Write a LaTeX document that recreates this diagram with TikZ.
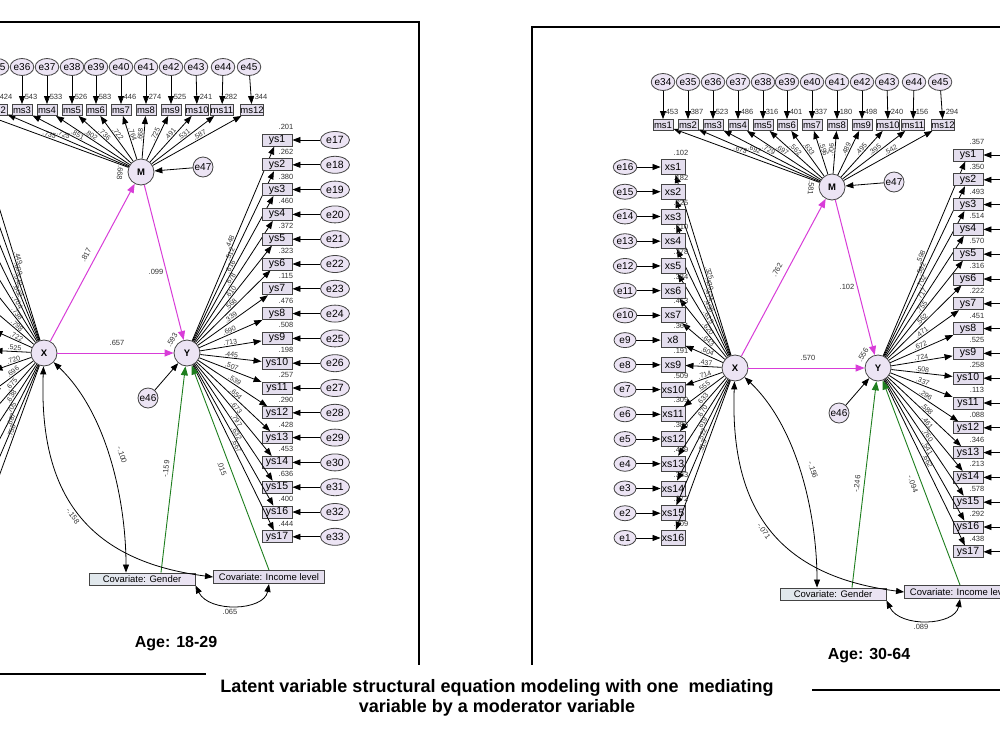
\documentclass[tikz,border=0pt]{standalone}
\usepackage{fontspec}
\setmainfont{Liberation Sans}
\usetikzlibrary{arrows.meta,shapes.geometric,calc}
\definecolor{lav}{HTML}{ECE4F4}
\definecolor{boxf}{HTML}{E4DEEE}
\definecolor{mag}{HTML}{D83CD8}
\definecolor{grn}{HTML}{1E7E1E}
\definecolor{gbl}{HTML}{E0E8EC}
\definecolor{edge}{HTML}{444444}
\definecolor{numc}{HTML}{333333}
\tikzset{
 lat/.style={circle,draw=edge,line width=0.8pt,fill=lav,minimum size=26pt,inner sep=0pt,font=\bfseries\fontsize{9.5}{9.5}\selectfont},
 errs/.style={ellipse,draw=edge,line width=0.8pt,fill=lav,minimum width=22pt,minimum height=17pt,inner sep=0pt,font=\fontsize{10}{10}\selectfont},
 errx/.style={ellipse,draw=edge,line width=0.8pt,fill=lav,minimum width=22pt,minimum height=15pt,inner sep=0pt,font=\fontsize{10}{10}\selectfont},
 erry/.style={ellipse,draw=edge,line width=0.8pt,fill=lav,minimum width=29pt,minimum height=17pt,inner sep=0pt,font=\fontsize{10.5}{10.5}\selectfont},
 errc/.style={circle,draw=edge,line width=0.8pt,fill=lav,minimum size=20pt,inner sep=0pt,font=\fontsize{10}{10}\selectfont},
 msbox/.style={rectangle,draw=edge,line width=0.9pt,fill=boxf,minimum width=20pt,minimum height=11pt,inner sep=0pt,font=\fontsize{9.5}{9.5}\selectfont},
 xsbox/.style={rectangle,draw=edge,line width=0.9pt,fill=boxf,minimum width=24pt,minimum height=15pt,inner sep=0pt,font=\fontsize{10.5}{10.5}\selectfont},
 ysbox/.style={rectangle,draw=edge,line width=0.9pt,fill=boxf,minimum width=30pt,minimum height=12pt,inner sep=0pt,font=\fontsize{10.5}{10.5}\selectfont},
 gbox/.style={rectangle,draw=edge,line width=0.9pt,left color=gbl,right color=lav,minimum width=106pt,minimum height=12pt,inner sep=0pt,font=\fontsize{9.5}{9.5}\selectfont},
 ibox/.style={rectangle,draw=edge,line width=0.9pt,fill=boxf,minimum width=111pt,minimum height=13pt,inner sep=0pt,font=\fontsize{9.5}{9.5}\selectfont},
 arr/.style={draw=black,line width=0.8pt,-{Triangle[length=8pt,width=6pt]}},
 marr/.style={draw=mag,line width=1pt,-{Triangle[length=9pt,width=7pt]}},
 garr/.style={draw=grn,line width=0.9pt,-{Triangle[length=9pt,width=7pt]}},
 carr/.style={draw=black,line width=0.8pt,{Triangle[length=8pt,width=6pt]}-{Triangle[length=8pt,width=6pt]}},
 num/.style={text=numc,font=\fontsize{7.5}{7.5}\selectfont,inner sep=0.5pt},
 ld/.style={text=numc,font=\fontsize{7}{7}\selectfont,inner sep=0.8pt,sloped,above},
 frame/.style={draw=black,line width=2.6pt}
}
\newcommand\drawpanel[1]{%
 \node[lat] (#1X) at (735,368) {X};
 \node[lat] (#1M) at (832,187) {M};
 \node[lat] (#1Y) at (878,368) {Y};
 \node[errc] (#1e47) at (894,182) {e47};
 \node[errc] (#1e46) at (839,413) {e46};
 \node[gbox] (#1G) at (833,594) {Covariate: Gender};
 \node[ibox] (#1I) at (960,592) {Covariate: Income level};
 \foreach \xx/\ex/\vv/\lo [count=\i] in \msdata {
   \pgfmathtruncatemacro\en{\i+33}
   \node[msbox] (#1ms\i) at (\xx,125) {ms\i};
   \node[errs] (#1me\i) at (\ex,82) {e\en};
   \draw[arr] (#1me\i) -- (#1ms\i);
   \node[num] at (\xx+8,112) {\vv};
   \draw[arr] (#1M) -- (#1ms\i) node[ld,pos=0.55] {\lo};
 }
 \foreach \lab/\vv/\lo [count=\i] in \xsdata {
   \pgfmathsetmacro\yy{167+24.73*(\i-1)}
   \pgfmathtruncatemacro\en{17-\i}
   \node[xsbox] (#1xs\i) at (673,\yy) {\lab};
   \node[errx] (#1xe\i) at (625,\yy) {e\en};
   \draw[arr] (#1xe\i) -- (#1xs\i);
   \node[num] at (681,\yy-14) {\vv};
   \draw[arr] (#1X) -- (#1xs\i) node[ld,pos=0.45] {\lo};
 }
 \foreach \vv/\lo [count=\i] in \ysdata {
   \pgfmathsetmacro\yy{155+24.8*(\i-1)}
   \pgfmathtruncatemacro\en{\i+16}
   \node[ysbox] (#1ys\i) at (968,\yy) {ys\i};
   \node[erry] (#1ye\i) at (1026,\yy) {e\en};
   \draw[arr] (#1ye\i) -- (#1ys\i);
   \node[num] at (977,\yy-13) {\vv};
   \draw[arr] (#1Y) -- (#1ys\i) node[ld,pos=0.5] {\lo};
 }
 \draw[marr] (#1X) -- (#1M);
 \draw[marr] (#1X) -- (#1Y);
 \draw[marr] (#1M) -- (#1Y);
 \draw[arr] (#1e47) -- (#1M);
 \draw[arr] (#1e46) -- (#1Y);
 \node[num,rotate=62] at (777,270) {\pXM};
 \node[num] at (808,358) {\pXY};
 \node[num] at (847,287) {\pMY};
 \node[num,rotate=60] at (863,355) {\vY};
 \node[num,rotate=-95] at (811,188) {\vM};
 \coordinate (#1Gt) at ([xshift=19pt]#1G.north);
 \coordinate (#1Gc) at ([xshift=-16pt]#1G.north);
 \draw[garr] (#1Gt) -- (#1Y);
 \draw[garr] (#1I.north) -- (#1Y);
 \node[num,rotate=84] at (857,484) {\pGY};
 \node[num,rotate=-70] at (913,484) {\pIY};
 \draw[carr] (#1X) .. controls (800,430) and (817,520) .. (#1Gc);
 \draw[carr] (#1X) .. controls (730,500) and (770,575) .. (#1I.west);
 \draw[carr] (#1G.south east) .. controls (900,628) and (955,626) .. (#1I.south);
 \node[num,rotate=-72] at (813,470) {\cXG};
 \node[num,rotate=-55] at (764,531) {\cXI};
 \node[num] at (921,627) {\cGI};
}
\begin{document}
\begin{tikzpicture}[x=1pt,y=-1pt]
\useasboundingbox (0,0) rectangle (1000,750);
\clip (0,0) rectangle (1000,750);
\fill[white] (0,0) rectangle (1000,750);
% frames
\draw[frame] (0,22) -- (420,22);
\draw[draw=black,line width=2pt] (419,21) -- (419,665);
\draw[frame] (531,27) -- (1000,27);
\draw[frame] (532,26) -- (532,665);
\draw[draw=black,line width=2.4pt] (0,674) -- (206,674);
\draw[draw=black,line width=2.4pt] (812,690) -- (1000,690);
% left panel
\begin{scope}[shift={(-691,-15)}]
 \def\msdata{663/663/.415/.735, 688/688/.424/.725, 713/713/.543/.851, 738/738/.533/.802, 763/763/.526/.736, 787/787/.583/.722, 812/812/.446/.764, 837/837/.274/.668, 862/862/.525/.725, 888/887/.241/.491, 913/914/.282/.531, 943/940/.344/.587}
 \def\xsdata{xs1/.202/.449, xs2/.371/.609, xs3/.294/.542, xs4/.362/.602, xs5/.496/.704, xs6/.545/.738, xs7/.637/.798, x8/.521/.722, xs9/.276/.525, xs10/.518/.720, xs11/.484/.696, xs12/.456/.675, xs13/.407/.638, xs14/.497/.705, xs15/.472/.687, xs16/.575/.758}
 \def\ysdata{.201/.448, .262/.512, .380/.616, .460/.678, .372/.610, .323/.568, .115/.339, .476/.690, .508/.713, .198/.445, .257/.507, .290/.539, .428/.654, .453/.673, .636/.797, .400/.632, .444/.667}
 \def\pXM{.817}\def\pXY{.657}\def\pMY{.099}\def\vM{.668}\def\vY{.593}
 \def\pGY{-.159}\def\pIY{.015}\def\cXG{-.100}\def\cXI{-.158}\def\cGI{.065}
 \drawpanel{L}
\end{scope}
% right panel
\begin{scope}
 \def\msdata{663/663/.453/.673, 688/688/.387/.692, 713/713/.523/.729, 738/738/.486/.697, 763/763/.316/.562, 787/787/.401/.633, 812/812/.337/.596, 837/837/.180/.706, 862/862/.498/.489, 888/887/.240/.495, 913/914/.156/.395, 943/940/.294/.542}
 \def\xsdata{xs1/.102/.325, xs2/.182/.430, xs3/.225/.474, xs4/.210/.458, xs5/.378/.615, xs6/.384/.620, xs7/.413/.643, x8/.364/.604, xs9/.191/.437, xs10/.509/.714, xs11/.309/.555, xs12/.386/.633, xs13/.449/.670, xs14/.383/.619, xs15/.272/.522, xs16/.309/.313}
 \def\ysdata{.357/.598, .350/.592, .493/.702, .514/.717, .570/.755, .316/.562, .222/.471, .451/.672, .525/.724, .258/.508, .113/.337, .088/.296, .346/.588, .213/.461, .578/.760, .292/.541, .438/.662}
 \def\pXM{.762}\def\pXY{.570}\def\pMY{.102}\def\vM{.581}\def\vY{.556}
 \def\pGY{-.246}\def\pIY{-.094}\def\cXG{-.156}\def\cXI{-.071}\def\cGI{.089}
 \drawpanel{R}
\end{scope}
\node[font=\bfseries\fontsize{16}{16}\selectfont] (age1) at (176,644) {Age: 18-29};
\node[font=\bfseries\fontsize{16}{16}\selectfont] (age2) at (869,656) {Age: 30-64};
\node[font=\bfseries\fontsize{18}{20}\selectfont,align=center] (title) at (497,698) {Latent variable structural equation modeling with one\ \ mediating\\variable by a moderator variable};
\end{tikzpicture}
\end{document}
